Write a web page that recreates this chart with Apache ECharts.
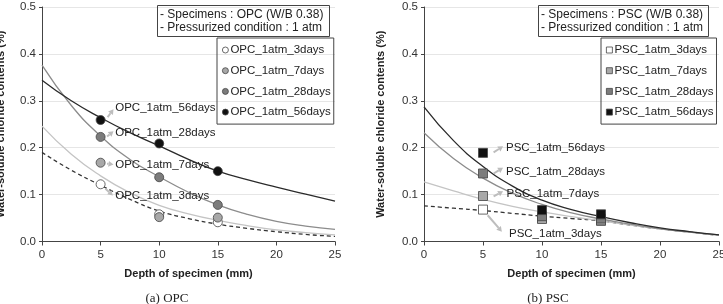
<!DOCTYPE html>
<html>
<head>
<meta charset="utf-8">
<script src="https://cdn.jsdelivr.net/npm/echarts@6/dist/echarts.min.js"></script>
<style>
  html, body { margin: 0; padding: 0; background: #fff; }
  #main { width: 723px; height: 304px; }
</style>
</head>
<body>
<div id="main"></div>
<script>
// depth (mm) where the specimens were sampled
var depths = [5, 10, 15];
// depth grid for the fitted curves
var curveDepths = [0, 2.5, 5, 7.5, 10, 12.5, 15, 17.5, 20, 22.5, 25];
var yTicks = [0, 0.1, 0.2, 0.3, 0.4, 0.5];

// OPC measured points
var opc3 = [0.122, 0.058, 0.041];
var opc7 = [0.168, 0.052, 0.051];
var opc28 = [0.223, 0.137, 0.078];
var opc56 = [0.259, 0.209, 0.150];
// OPC fitted curves
var opc3Fit = [0.19, 0.152, 0.12, 0.09, 0.065, 0.049, 0.037, 0.028, 0.021, 0.015, 0.011];
var opc7Fit = [0.246, 0.186, 0.14, 0.104, 0.077, 0.059, 0.045, 0.034, 0.025, 0.019, 0.014];
var opc28Fit = [0.376, 0.29, 0.225, 0.175, 0.138, 0.105, 0.078, 0.058, 0.043, 0.033, 0.026];
var opc56Fit = [0.344, 0.3, 0.264, 0.232, 0.204, 0.175, 0.15, 0.132, 0.116, 0.101, 0.086];

// PSC measured points
var psc3 = [0.068, 0.050, 0.044];
var psc7 = [0.097, 0.048, 0.045];
var psc28 = [0.145, 0.054, 0.049];
var psc56 = [0.189, 0.067, 0.058];
// PSC fitted curves
var psc3Fit = [0.076, 0.071, 0.066, 0.06, 0.054, 0.049, 0.044, 0.035, 0.027, 0.02, 0.013];
var psc7Fit = [0.127, 0.108, 0.09, 0.075, 0.063, 0.053, 0.044, 0.035, 0.027, 0.02, 0.013];
var psc28Fit = [0.232, 0.177, 0.135, 0.103, 0.079, 0.061, 0.048, 0.037, 0.027, 0.02, 0.014];
var psc56Fit = [0.287, 0.215, 0.16, 0.118, 0.088, 0.068, 0.053, 0.04, 0.029, 0.021, 0.014];

var labels = ["3days", "7days", "28days", "56days"];

var font = "Liberation Sans, Arial, sans-serif";
var pointColors = ["#ffffff", "#a8a8a8", "#7c7c7c", "#111111"];
var lineColors = ["#333333", "#c4c4c4", "#8c8c8c", "#2a2a2a"];

function pairs(xs, ys) {
  return xs.map(function (x, i) { return [x, ys[i]]; });
}

function xAxis(grid) {
  return {
    type: "value", gridIndex: grid, min: 0, max: 25, interval: 5,
    name: "Depth of specimen (mm)", nameLocation: "middle", nameGap: 27,
    nameTextStyle: { fontFamily: font, fontSize: 11, fontWeight: "bold", color: "#222" },
    axisLine: { lineStyle: { color: "#444", width: 1 } },
    axisTick: { length: 4, lineStyle: { color: "#444" } },
    axisLabel: { fontFamily: font, fontSize: 11.5, color: "#333", margin: 7 },
    splitLine: { show: false }
  };
}

function yAxis(grid, gap) {
  return {
    type: "value", gridIndex: grid, min: yTicks[0], max: yTicks[yTicks.length - 1], interval: 0.1,
    name: "Water-soluble chloride contents (%)", nameLocation: "middle", nameGap: gap, nameRotate: 90,
    nameTextStyle: { fontFamily: font, fontSize: 11, fontWeight: "bold", color: "#222" },
    axisLine: { show: true, lineStyle: { color: "#444", width: 1 } },
    axisTick: { show: true, length: 3, lineStyle: { color: "#444" } },
    axisLabel: { fontFamily: font, fontSize: 11.5, color: "#333", margin: 6,
      formatter: function (v) { return v.toFixed(1); } },
    splitLine: { show: true, lineStyle: { color: "#e6e6e6", width: 1 } }
  };
}

function buildSeries(prefix, grid, fits, points, symbol) {
  var out = [];
  fits.forEach(function (fit, i) {
    out.push({
      type: "line", xAxisIndex: grid, yAxisIndex: grid, smooth: true, showSymbol: false,
      silent: true, data: pairs(curveDepths, fit),
      lineStyle: { color: lineColors[i], width: 1.3, type: i === 0 ? [4, 3] : "solid" }
    });
  });
  points.forEach(function (p, i) {
    out.push({
      type: "scatter", name: prefix + "_1atm_" + labels[i], xAxisIndex: grid, yAxisIndex: grid,
      symbol: symbol, symbolSize: 9, data: pairs(depths, p), z: 3,
      itemStyle: { color: pointColors[i], borderColor: "#444", borderWidth: 0.8, opacity: 1 }
    });
  });
  return out;
}

function legend(prefix, left, top) {
  return {
    orient: "vertical", left: left, top: top, padding: [6, 3, 6, 5], itemGap: 8.7,
    itemWidth: 6, itemHeight: 6, itemStyle: { borderWidth: 0.8, borderColor: "#444" },
    borderColor: "#444", borderWidth: 1, selectedMode: false,
    textStyle: { fontFamily: font, fontSize: 11.5, color: "#222", padding: [0, 0, 0, -3] },
    data: labels.map(function (l) { return prefix + "_1atm_" + l; })
  };
}

function infoBox(text, left) {
  return {
    text: text, left: left, top: 5, padding: [3, 6, 3, 3],
    borderColor: "#444", borderWidth: 1,
    textStyle: { fontFamily: font, fontSize: 12, fontWeight: "normal", color: "#222", lineHeight: 13 }
  };
}

function caption(text, left) {
  return {
    text: text, left: left, top: 287, textAlign: "center",
    textStyle: { fontFamily: "Liberation Serif, Times New Roman, serif", fontSize: 13, fontWeight: "normal", color: "#222" }
  };
}

var option = {
  animation: false,
  backgroundColor: "#fff",
  grid: [
    { left: 42, right: 388, top: 7, bottom: 62.5, containLabel: false, outerBoundsMode: "none" },
    { left: 424, right: 4, top: 7, bottom: 62.5, containLabel: false, outerBoundsMode: "none" }
  ],
  xAxis: [xAxis(0), xAxis(1)],
  yAxis: [yAxis(0, 36), yAxis(1, 38)],
  title: [
    infoBox("- Specimens : OPC (W/B 0.38)\n- Pressurized condition : 1 atm", 157),
    infoBox("- Specimens : PSC (W/B 0.38)\n- Pressurized condition : 1 atm", 538),
    caption("(a) OPC", 162),
    caption("(b) PSC", 543)
  ],
  legend: [legend("OPC", 217, 38), legend("PSC", 601, 38)],
  series: [].concat(
    buildSeries("OPC", 0, [opc3Fit, opc7Fit, opc28Fit, opc56Fit], [opc3, opc7, opc28, opc56], "circle"),
    buildSeries("PSC", 1, [psc3Fit, psc7Fit, psc28Fit, psc56Fit], [psc3, psc7, psc28, psc56], "rect")
  )
};

// callout arrows: [grid, text, from, to, textPos] in data coordinates
var callouts = [
  [0, "OPC_1atm_56days", [5.6, 0.265], [6.1, 0.282], [6.25, 0.284]],
  [0, "OPC_1atm_28days", [5.55, 0.224], [6.1, 0.235], [6.25, 0.231]],
  [0, "OPC_1atm_7days", [5.55, 0.166], [6.1, 0.164], [6.25, 0.163]],
  [0, "OPC_1atm_3days", [5.4, 0.113], [6.05, 0.098], [6.25, 0.097]],
  [1, "PSC_1atm_56days", [5.9, 0.19], [6.7, 0.203], [6.95, 0.199]],
  [1, "PSC_1atm_28days", [5.9, 0.145], [6.7, 0.157], [6.95, 0.148]],
  [1, "PSC_1atm_7days", [5.9, 0.096], [6.7, 0.107], [7.0, 0.101]],
  [1, "PSC_1atm_3days", [5.4, 0.056], [6.6, 0.021], [7.2, 0.016]]
];

var chart = echarts.init(document.getElementById("main"));
chart.setOption(option);

var graphics = [];
callouts.forEach(function (c) {
  var a = chart.convertToPixel({ gridIndex: c[0] }, c[2]);
  var b = chart.convertToPixel({ gridIndex: c[0] }, c[3]);
  var t = chart.convertToPixel({ gridIndex: c[0] }, c[4]);
  var ang = Math.atan2(b[1] - a[1], b[0] - a[0]);
  var hl = 5, hw = 3;
  var bx = b[0] - hl * Math.cos(ang), by = b[1] - hl * Math.sin(ang);
  graphics.push({
    type: "line", z: 10, silent: true,
    shape: { x1: a[0], y1: a[1], x2: bx, y2: by },
    style: { stroke: "#bdbdbd", lineWidth: 2 }
  });
  graphics.push({
    type: "polygon", z: 10, silent: true,
    shape: { points: [
      [b[0], b[1]],
      [bx + hw * Math.sin(ang), by - hw * Math.cos(ang)],
      [bx - hw * Math.sin(ang), by + hw * Math.cos(ang)]
    ] },
    style: { fill: "#bdbdbd" }
  });
  graphics.push({
    type: "text", z: 11, silent: true, x: t[0], y: t[1],
    style: { text: c[1], font: "11.5px " + font, fill: "#222", textAlign: "left", textVerticalAlign: "middle" }
  });
});
chart.setOption({ graphic: graphics });
</script>
</body>
</html>
